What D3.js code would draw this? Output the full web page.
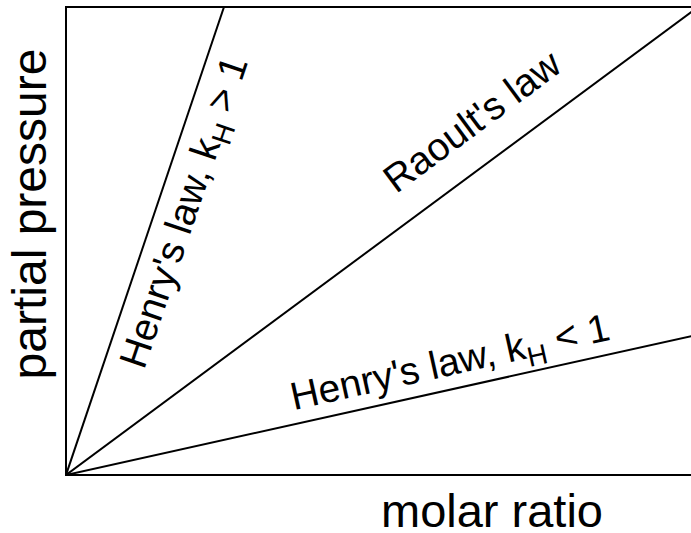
<!DOCTYPE html>
<html>
<head>
<meta charset="utf-8">
<script src="https://cdn.jsdelivr.net/npm/d3@7"></script>
<style>
  body { margin: 0; background: white; }
  text { font-family: "Liberation Sans", Arial, sans-serif; fill: black; }
</style>
</head>
<body>
<script>
// slopes of the three lines (partial pressure vs molar ratio)
const lineNames = ["henryHigh", "raoult", "henryLow"];
const slopes = [4, 1, 0.3];
// where each label sits (data coords, centre of baseline)
const labelX = [0.206, 0.655, 0.612];
const labelY = [0.553, 0.733, 0.214];
const labelMain = ["Henry's law, k", "Raoult's law", "Henry's law, k"];
const labelSub = ["H", "", "H"];
const labelTail = [" > 1", "", " < 1"];

const width = 691, height = 533;
const marginLeft = 66, marginTop = 7, plotW = 632, plotH = 468;

const svg = d3.select("body").append("svg")
    .attr("width", width)
    .attr("height", height)
    .attr("style", "background:white;");

const x = d3.scaleLinear().domain([0, 1]).range([marginLeft, marginLeft + plotW]);
const y = d3.scaleLinear().domain([0, 1]).range([marginTop + plotH, marginTop]);

// frame
svg.append("rect")
    .attr("x", x(0))
    .attr("y", y(1))
    .attr("width", x(1) - x(0))
    .attr("height", y(0) - y(1))
    .attr("fill", "none")
    .attr("stroke", "black")
    .attr("stroke-width", 2);

svg.append("clipPath").attr("id", "plotclip")
    .append("rect")
    .attr("x", x(0)).attr("y", y(1))
    .attr("width", x(1) - x(0)).attr("height", y(0) - y(1));

// lines from origin, ending where they leave the box
slopes.forEach(function(k) {
    const xEnd = Math.min(1, 1 / k);
    svg.append("line")
        .attr("x1", x(0)).attr("y1", y(0))
        .attr("x2", x(xEnd)).attr("y2", y(k * xEnd))
        .attr("stroke", "black")
        .attr("stroke-width", 2)
        .attr("clip-path", "url(#plotclip)");
});

// labels rotated along their line
slopes.forEach(function(k, i) {
    const angle = Math.atan2(y(0) - y(k), x(1) - x(0)) * 180 / Math.PI;
    const t = svg.append("text")
        .attr("transform", "translate(" + x(labelX[i]) + "," + y(labelY[i]) + ") rotate(" + (-angle) + ")")
        .attr("text-anchor", "middle")
        .attr("font-size", 39);
    t.append("tspan").text(labelMain[i]);
    if (labelSub[i]) {
        t.append("tspan").attr("font-size", 28).attr("dy", 9).text(labelSub[i]);
        t.append("tspan").attr("dy", -9).text(labelTail[i]);
    }
});

// axis titles
svg.append("text")
    .attr("x", 492)
    .attr("y", 527)
    .attr("text-anchor", "middle")
    .attr("font-size", 47)
    .text("molar ratio");

svg.append("text")
    .attr("transform", "translate(46,214) rotate(-90)")
    .attr("text-anchor", "middle")
    .attr("font-size", 48)
    .text("partial pressure");
</script>
</body>
</html>
